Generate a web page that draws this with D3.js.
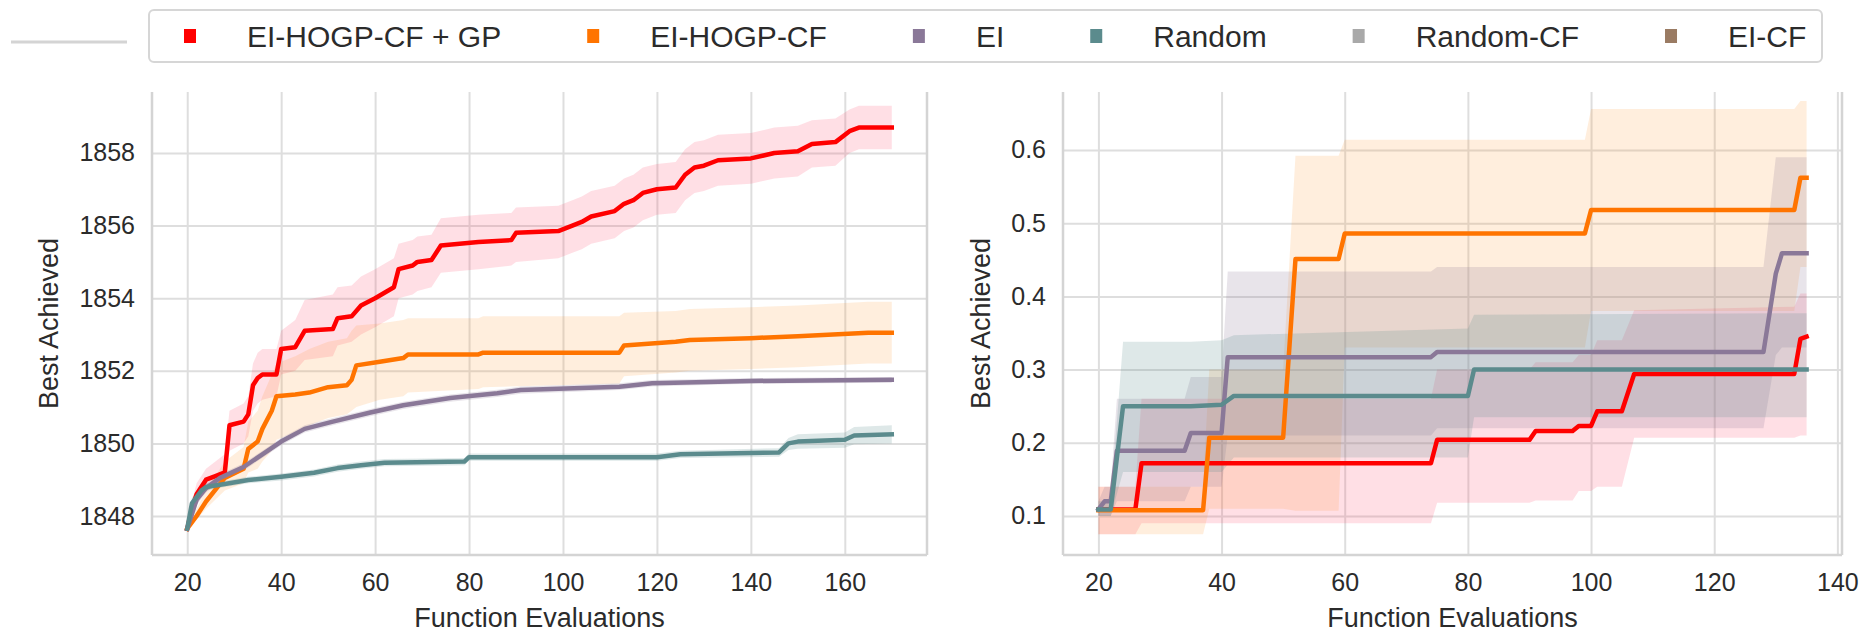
<!DOCTYPE html>
<html>
<head>
<meta charset="utf-8">
<script src="https://cdn.jsdelivr.net/npm/d3@7"></script>
<style>
  body { margin: 0; background: #fff; }
  svg { display: block; font-family: "Liberation Sans", Arial, Helvetica, sans-serif; }
</style>
</head>
<body>
<svg id="chart" width="1864" height="632"></svg>
<script>
// ---- legend entries ----
const seriesNames  = ["EI-HOGP-CF + GP", "EI-HOGP-CF", "EI", "Random", "Random-CF", "EI-CF"];
const seriesColors = ["#ff0000", "#ff7400", "#8a7898", "#5b8b8d", "#a9a9a9", "#9a7b63"];

// ---- left panel: best achieved vs. function evaluations ----
const leftXTicks = [20, 40, 60, 80, 100, 120, 140, 160];
const leftYTicks = [1848, 1850, 1852, 1854, 1856, 1858];

const leftGpX    = [20, 21, 22, 24, 26, 28, 29, 32, 33, 34, 35, 36, 39, 40, 43, 45, 51, 52, 55, 57, 60, 62, 64, 65, 68, 69, 72, 74, 82, 89, 90, 99, 102, 104, 106, 111, 113, 115, 117, 120, 124, 126, 128, 130, 133, 140, 145, 150, 153, 158, 161, 163, 170];
const leftGpMean = [1847.65, 1848.2, 1848.6, 1849.0, 1849.1, 1849.2, 1850.5, 1850.6, 1850.8, 1851.6, 1851.8, 1851.9, 1851.9, 1852.6, 1852.65, 1853.1, 1853.15, 1853.45, 1853.5, 1853.8, 1854.0, 1854.15, 1854.3, 1854.8, 1854.9, 1855.0, 1855.05, 1855.45, 1855.55, 1855.6, 1855.8, 1855.85, 1856.0, 1856.1, 1856.25, 1856.4, 1856.6, 1856.7, 1856.9, 1857.0, 1857.05, 1857.4, 1857.6, 1857.65, 1857.8, 1857.85, 1858.0, 1858.05, 1858.25, 1858.3, 1858.6, 1858.7, 1858.7];
const leftGpLo   = [1847.6, 1848.0, 1848.3, 1848.7, 1848.8, 1848.9, 1849.8, 1850.0, 1850.2, 1850.9, 1851.1, 1851.2, 1851.3, 1851.9, 1852.0, 1852.3, 1852.4, 1852.7, 1852.8, 1853.0, 1853.2, 1853.35, 1853.5, 1854.0, 1854.1, 1854.2, 1854.3, 1854.7, 1854.8, 1854.9, 1855.0, 1855.1, 1855.25, 1855.35, 1855.5, 1855.65, 1855.85, 1855.95, 1856.15, 1856.3, 1856.35, 1856.7, 1856.9, 1856.95, 1857.1, 1857.15, 1857.3, 1857.35, 1857.6, 1857.65, 1858.0, 1858.1, 1858.1];
const leftGpHi   = [1847.7, 1848.4, 1848.9, 1849.3, 1849.5, 1849.7, 1850.9, 1851.1, 1851.3, 1852.2, 1852.5, 1852.6, 1852.6, 1853.1, 1853.4, 1853.95, 1854.1, 1854.3, 1854.35, 1854.6, 1854.8, 1854.95, 1855.1, 1855.5, 1855.6, 1855.7, 1855.75, 1856.2, 1856.3, 1856.35, 1856.5, 1856.55, 1856.7, 1856.8, 1856.95, 1857.1, 1857.3, 1857.4, 1857.6, 1857.7, 1857.75, 1858.1, 1858.3, 1858.35, 1858.5, 1858.55, 1858.7, 1858.75, 1858.9, 1858.95, 1859.2, 1859.3, 1859.3];

const leftCfX    = [20, 22, 24, 28, 32, 33, 35, 36, 38, 39, 43, 46, 50, 54, 55, 56, 61, 66, 67, 82, 83, 112, 113, 124, 127, 140, 150, 165, 170];
const leftCfMean = [1847.65, 1848.0, 1848.4, 1849.05, 1849.3, 1849.85, 1850.05, 1850.4, 1850.9, 1851.3, 1851.35, 1851.4, 1851.55, 1851.6, 1851.75, 1852.15, 1852.25, 1852.35, 1852.45, 1852.45, 1852.5, 1852.5, 1852.7, 1852.8, 1852.85, 1852.9, 1852.95, 1853.05, 1853.05];
const leftCfLo   = [1847.6, 1847.9, 1848.2, 1848.7, 1848.9, 1849.2, 1849.3, 1849.5, 1849.8, 1850.1, 1850.3, 1850.5, 1850.7, 1850.8, 1850.9, 1851.0, 1851.2, 1851.3, 1851.4, 1851.5, 1851.55, 1851.65, 1851.85, 1851.95, 1852.0, 1852.05, 1852.1, 1852.2, 1852.2];
const leftCfHi   = [1847.7, 1848.2, 1848.7, 1849.5, 1849.9, 1850.6, 1850.9, 1851.3, 1851.9, 1852.2, 1852.4, 1852.6, 1852.8, 1852.9, 1853.1, 1853.25, 1853.3, 1853.4, 1853.45, 1853.45, 1853.5, 1853.5, 1853.6, 1853.65, 1853.7, 1853.75, 1853.8, 1853.9, 1853.9];

const leftEiX    = [20, 22, 24, 27, 32, 36, 40, 45, 51, 59, 66, 76, 86, 91, 112, 119, 140, 170];
const leftEiMean = [1847.65, 1848.45, 1848.77, 1849.05, 1849.35, 1849.7, 1850.05, 1850.4, 1850.6, 1850.85, 1851.05, 1851.25, 1851.38, 1851.47, 1851.56, 1851.66, 1851.72, 1851.75];
const leftEiLo   = [1847.6, 1848.3, 1848.65, 1848.95, 1849.25, 1849.6, 1849.95, 1850.3, 1850.5, 1850.75, 1850.95, 1851.15, 1851.28, 1851.37, 1851.47, 1851.57, 1851.64, 1851.67];
const leftEiHi   = [1847.7, 1848.6, 1848.9, 1849.15, 1849.45, 1849.8, 1850.15, 1850.5, 1850.7, 1850.95, 1851.15, 1851.35, 1851.48, 1851.57, 1851.66, 1851.75, 1851.8, 1851.83];

const leftRndX    = [20, 21, 23, 24, 28, 33, 40, 47, 52, 57, 62, 79, 80, 120, 125, 146, 148, 150, 160, 162, 170];
const leftRndMean = [1847.65, 1848.35, 1848.7, 1848.8, 1848.88, 1848.99, 1849.08, 1849.19, 1849.32, 1849.4, 1849.47, 1849.5, 1849.62, 1849.62, 1849.7, 1849.75, 1850.0, 1850.05, 1850.1, 1850.22, 1850.25];
const leftRndLo   = [1847.6, 1848.2, 1848.6, 1848.7, 1848.8, 1848.9, 1848.98, 1849.09, 1849.22, 1849.3, 1849.37, 1849.4, 1849.52, 1849.52, 1849.6, 1849.63, 1849.82, 1849.85, 1849.88, 1849.98, 1850.0];
const leftRndHi   = [1847.7, 1848.5, 1848.8, 1848.9, 1848.97, 1849.08, 1849.17, 1849.28, 1849.42, 1849.5, 1849.57, 1849.6, 1849.72, 1849.72, 1849.8, 1849.87, 1850.15, 1850.25, 1850.3, 1850.45, 1850.5];

// ---- right panel ----
const rightXTicks = [20, 40, 60, 80, 100, 120, 140];
const rightYTicks = [0.1, 0.2, 0.3, 0.4, 0.5, 0.6];

const rightGpX    = [20, 26, 27, 74, 75, 90, 91, 97, 98, 100, 101, 105, 107, 133, 134, 135];
const rightGpMean = [0.109, 0.109, 0.172, 0.172, 0.204, 0.204, 0.216, 0.216, 0.223, 0.223, 0.243, 0.243, 0.294, 0.294, 0.342, 0.345];
const rightGpLo   = [0.075, 0.075, 0.09, 0.09, 0.118, 0.118, 0.121, 0.121, 0.134, 0.134, 0.14, 0.14, 0.207, 0.207, 0.21, 0.21];
const rightGpHi   = [0.14, 0.14, 0.26, 0.26, 0.30, 0.30, 0.31, 0.31, 0.32, 0.32, 0.34, 0.34, 0.381, 0.386, 0.404, 0.404];

const rightCfX    = [20, 37, 38, 50, 52, 59, 60, 99, 100, 133, 134, 135];
const rightCfMean = [0.108, 0.108, 0.207, 0.207, 0.451, 0.451, 0.486, 0.486, 0.518, 0.518, 0.562, 0.562];
const rightCfLo   = [0.075, 0.075, 0.11, 0.11, 0.107, 0.107, 0.33, 0.33, 0.38, 0.38, 0.44, 0.44];
const rightCfHi   = [0.14, 0.14, 0.30, 0.30, 0.592, 0.592, 0.614, 0.614, 0.656, 0.656, 0.667, 0.667];

const rightEiX    = [20, 21, 22, 23, 34, 35, 40, 41, 74, 75, 128, 130, 131, 135];
const rightEiMean = [0.109, 0.12, 0.12, 0.189, 0.189, 0.2135, 0.2135, 0.317, 0.317, 0.324, 0.324, 0.431, 0.459, 0.459];
const rightEiLo   = [0.10, 0.10, 0.10, 0.12, 0.12, 0.14, 0.14, 0.21, 0.21, 0.22, 0.22, 0.32, 0.33, 0.33];
const rightEiHi   = [0.12, 0.14, 0.14, 0.26, 0.26, 0.29, 0.29, 0.434, 0.434, 0.44, 0.44, 0.59, 0.59, 0.59];

const rightRndX    = [20, 22, 24, 35, 40, 42, 80, 81, 135];
const rightRndMean = [0.109, 0.109, 0.25, 0.25, 0.252, 0.264, 0.264, 0.30, 0.30];
const rightRndLo   = [0.10, 0.10, 0.16, 0.16, 0.16, 0.18, 0.18, 0.235, 0.235];
const rightRndHi   = [0.12, 0.12, 0.338, 0.338, 0.34, 0.347, 0.356, 0.375, 0.377];

// ---- build the figure ----
const svg = d3.select("#chart");
const TEXT = "#2b2b2b";
const GRID = "#dedede";
const SPINE = "#d4d4d4";

function zipSeries(xs, mean, lo, hi) {
  return xs.map((x, i) => ({ x, m: mean[i], lo: lo[i], hi: hi[i] }));
}

const leftSeries = [
  zipSeries(leftGpX, leftGpMean, leftGpLo, leftGpHi),
  zipSeries(leftCfX, leftCfMean, leftCfLo, leftCfHi),
  zipSeries(leftEiX, leftEiMean, leftEiLo, leftEiHi),
  zipSeries(leftRndX, leftRndMean, leftRndLo, leftRndHi)
];
const rightSeries = [
  zipSeries(rightGpX, rightGpMean, rightGpLo, rightGpHi),
  zipSeries(rightCfX, rightCfMean, rightCfLo, rightCfHi),
  zipSeries(rightEiX, rightEiMean, rightEiLo, rightEiHi),
  zipSeries(rightRndX, rightRndMean, rightRndLo, rightRndHi)
];

const bandFills    = ["#ff2a50", "#ff8c1a", "#8a7898", "#5b8b8d"];
const bandOpacity  = [0.15, 0.15, 0.2, 0.2];

function drawPanel(cfg) {
  const x = d3.scaleLinear().domain(cfg.xDomain).range([cfg.left, cfg.right]);
  const y = d3.scaleLinear().domain(cfg.yDomain).range([cfg.bottom, cfg.top]);
  const g = svg.append("g");
  const h = cfg.bottom - cfg.top;
  const w = cfg.right - cfg.left;

  // vertical grid + x tick labels
  const xAxis = g.append("g")
    .attr("transform", `translate(0,${cfg.bottom})`)
    .call(d3.axisBottom(x).tickValues(cfg.xTicks).tickSize(-h).tickPadding(18).tickFormat(d3.format("d")));
  // horizontal grid + y tick labels
  const yAxis = g.append("g")
    .attr("transform", `translate(${cfg.left},0)`)
    .call(d3.axisLeft(y).tickValues(cfg.yTicks).tickSize(-w).tickPadding(17).tickFormat(cfg.yFormat));

  [xAxis, yAxis].forEach(ax => {
    ax.select(".domain").remove();
    ax.selectAll(".tick line").attr("stroke", GRID).attr("stroke-width", 2);
    ax.selectAll(".tick text")
      .attr("fill", TEXT)
      .style("font-size", "25px")
      .style("font-family", "'Liberation Sans', Arial, sans-serif");
  });

  // spines: left, bottom, right
  g.append("line").attr("x1", cfg.left).attr("x2", cfg.left).attr("y1", cfg.top).attr("y2", cfg.bottom)
    .attr("stroke", SPINE).attr("stroke-width", 2.5);
  g.append("line").attr("x1", cfg.left).attr("x2", cfg.right).attr("y1", cfg.bottom).attr("y2", cfg.bottom)
    .attr("stroke", SPINE).attr("stroke-width", 2.5);
  g.append("line").attr("x1", cfg.right).attr("x2", cfg.right).attr("y1", cfg.top).attr("y2", cfg.bottom)
    .attr("stroke", SPINE).attr("stroke-width", 2.5);

  const area = d3.area().x(d => x(d.x)).y0(d => y(d.lo)).y1(d => y(d.hi));
  const line = d3.line().x(d => x(d.x)).y(d => y(d.m));

  cfg.series.forEach((s, i) => {
    g.append("path").datum(s).attr("d", area)
      .attr("fill", bandFills[i]).attr("fill-opacity", bandOpacity[i]).attr("stroke", "none");
  });
  cfg.series.forEach((s, i) => {
    g.append("path").datum(s).attr("d", line)
      .attr("fill", "none").attr("stroke", seriesColors[i])
      .attr("stroke-width", 4.5).attr("stroke-linejoin", "round").attr("stroke-linecap", "square");
  });

  // axis titles
  g.append("text")
    .attr("x", (cfg.left + cfg.right) / 2).attr("y", 627)
    .attr("text-anchor", "middle").attr("fill", TEXT)
    .style("font-size", "27px")
    .text("Function Evaluations");
  g.append("text")
    .attr("transform", `translate(${cfg.yLabelX},${(cfg.top + cfg.bottom) / 2}) rotate(-90)`)
    .attr("text-anchor", "middle").attr("fill", TEXT)
    .style("font-size", "27px")
    .text("Best Achieved");
}

drawPanel({
  left: 152, right: 927, top: 92, bottom: 555,
  xDomain: [12.5, 177.5], yDomain: [1846.926, 1859.68],
  xTicks: leftXTicks, yTicks: leftYTicks, yFormat: d3.format("d"),
  series: leftSeries, yLabelX: 58
});
drawPanel({
  left: 1063, right: 1842, top: 92, bottom: 555,
  xDomain: [14.25, 140.75], yDomain: [0.0467, 0.6792],
  xTicks: rightXTicks, yTicks: rightYTicks, yFormat: d3.format(".1f"),
  series: rightSeries, yLabelX: 990
});

// ---- legend ----
svg.append("line").attr("x1", 11).attr("x2", 127).attr("y1", 42).attr("y2", 42)
  .attr("stroke", "#d4d4d4").attr("stroke-width", 3);

const legend = svg.append("g");
legend.append("rect")
  .attr("x", 149).attr("y", 10).attr("width", 1822 - 149).attr("height", 52)
  .attr("rx", 5).attr("fill", "#fff").attr("stroke", "#d6d6d6").attr("stroke-width", 2);

let cursor = 190;
seriesNames.forEach((name, i) => {
  legend.append("rect")
    .attr("x", cursor - 6).attr("y", 29).attr("width", 12).attr("height", 14)
    .attr("fill", seriesColors[i]);
  const t = legend.append("text")
    .attr("x", cursor + 57).attr("y", 36).attr("dy", "0.36em")
    .attr("fill", TEXT).style("font-size", "30px")
    .text(name);
  cursor = cursor + 57 + t.node().getComputedTextLength() + 92;
});
</script>
</body>
</html>
